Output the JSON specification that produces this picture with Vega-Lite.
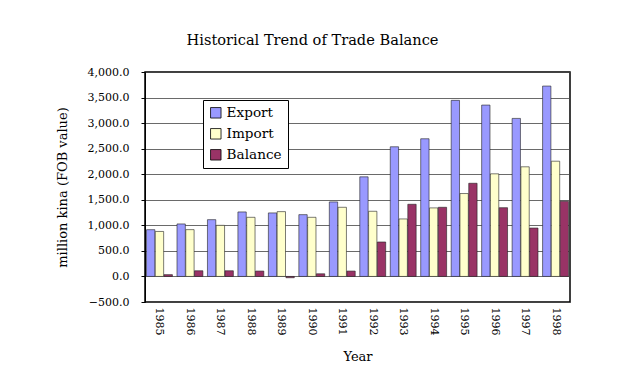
{
  "$schema": "https://vega.github.io/schema/vega-lite/v6.json",
  "width": 425,
  "height": 230,
  "padding": {"left": 56, "top": 33, "right": 40, "bottom": 5},
  "background": "white",
  "title": {
    "text": "Historical Trend of Trade Balance",
    "font": "DejaVu Serif",
    "fontSize": 14.6,
    "fontWeight": "normal",
    "color": "#000",
    "offset": 18,
    "dx": -45
  },
  "data": {
    "values": [
      {"year": "1985", "series": "Export", "value": 915},
      {"year": "1985", "series": "Import", "value": 880},
      {"year": "1985", "series": "Balance", "value": 35},
      {"year": "1986", "series": "Export", "value": 1027},
      {"year": "1986", "series": "Import", "value": 916},
      {"year": "1986", "series": "Balance", "value": 111},
      {"year": "1987", "series": "Export", "value": 1111},
      {"year": "1987", "series": "Import", "value": 1000},
      {"year": "1987", "series": "Balance", "value": 111},
      {"year": "1988", "series": "Export", "value": 1262},
      {"year": "1988", "series": "Import", "value": 1157},
      {"year": "1988", "series": "Balance", "value": 105},
      {"year": "1989", "series": "Export", "value": 1243},
      {"year": "1989", "series": "Import", "value": 1268},
      {"year": "1989", "series": "Balance", "value": -25},
      {"year": "1990", "series": "Export", "value": 1209},
      {"year": "1990", "series": "Import", "value": 1157},
      {"year": "1990", "series": "Balance", "value": 52},
      {"year": "1991", "series": "Export", "value": 1458},
      {"year": "1991", "series": "Import", "value": 1353},
      {"year": "1991", "series": "Balance", "value": 105},
      {"year": "1992", "series": "Export", "value": 1949},
      {"year": "1992", "series": "Import", "value": 1275},
      {"year": "1992", "series": "Balance", "value": 674},
      {"year": "1993", "series": "Export", "value": 2537},
      {"year": "1993", "series": "Import", "value": 1125},
      {"year": "1993", "series": "Balance", "value": 1412},
      {"year": "1994", "series": "Export", "value": 2694},
      {"year": "1994", "series": "Import", "value": 1341},
      {"year": "1994", "series": "Balance", "value": 1353},
      {"year": "1995", "series": "Export", "value": 3445},
      {"year": "1995", "series": "Import", "value": 1622},
      {"year": "1995", "series": "Balance", "value": 1823},
      {"year": "1996", "series": "Export", "value": 3353},
      {"year": "1996", "series": "Import", "value": 2008},
      {"year": "1996", "series": "Balance", "value": 1345},
      {"year": "1997", "series": "Export", "value": 3092},
      {"year": "1997", "series": "Import", "value": 2145},
      {"year": "1997", "series": "Balance", "value": 947},
      {"year": "1998", "series": "Export", "value": 3725},
      {"year": "1998", "series": "Import", "value": 2255},
      {"year": "1998", "series": "Balance", "value": 1470}
    ]
  },
  "mark": {"type": "bar", "stroke": "#222", "strokeWidth": 0.6},
  "encoding": {
    "x": {
      "field": "year",
      "type": "nominal",
      "title": "Year",
      "scale": {"paddingInner": 0.15, "paddingOuter": 0.05},
      "axis": {"labelAngle": 90, "labelAlign": "left", "labelBaseline": "middle", "ticks": false, "domain": false, "labelPadding": 5, "titlePadding": 16}
    },
    "xOffset": {"field": "series", "sort": ["Export", "Import", "Balance"], "scale": {"paddingInner": 0.05}},
    "y": {
      "field": "value",
      "type": "quantitative",
      "title": "million kina (FOB value)",
      "scale": {"domain": [-500, 4000], "nice": false, "zero": false},
      "axis": {"values": [-500, 0, 500, 1000, 1500, 2000, 2500, 3000, 3500, 4000], "format": ",.1f", "labelPadding": 12, "titlePadding": 18, "ticks": true, "tickSize": 4, "tickColor": "#000"}
    },
    "color": {
      "field": "series",
      "type": "nominal",
      "sort": ["Export", "Import", "Balance"],
      "scale": {"domain": ["Export", "Import", "Balance"], "range": ["#9999FF", "#FFFFCC", "#993366"]},
      "legend": {
        "title": null,
        "orient": "none",
        "legendX": 58,
        "legendY": 28,
        "symbolType": "square",
        "symbolSize": 110,
        "symbolStrokeColor": "#000",
        "symbolStrokeWidth": 0.8,
        "labelFont": "DejaVu Serif",
        "labelFontSize": 13.6,
        "labelColor": "#000",
        "rowPadding": 6,
        "padding": 6,
        "strokeColor": "#000",
        "fillColor": "white"
      }
    }
  },
  "config": {
    "font": "DejaVu Serif",
    "view": {"stroke": "#000", "strokeWidth": 1.5},
    "axis": {
      "labelFont": "DejaVu Serif",
      "labelFontSize": 11,
      "labelColor": "#000",
      "titleFont": "DejaVu Serif",
      "titleFontSize": 13,
      "titleFontWeight": "normal",
      "titleColor": "#000",
      "gridColor": "#444",
      "gridWidth": 0.8,
      "domainColor": "#000"
    }
  }
}
